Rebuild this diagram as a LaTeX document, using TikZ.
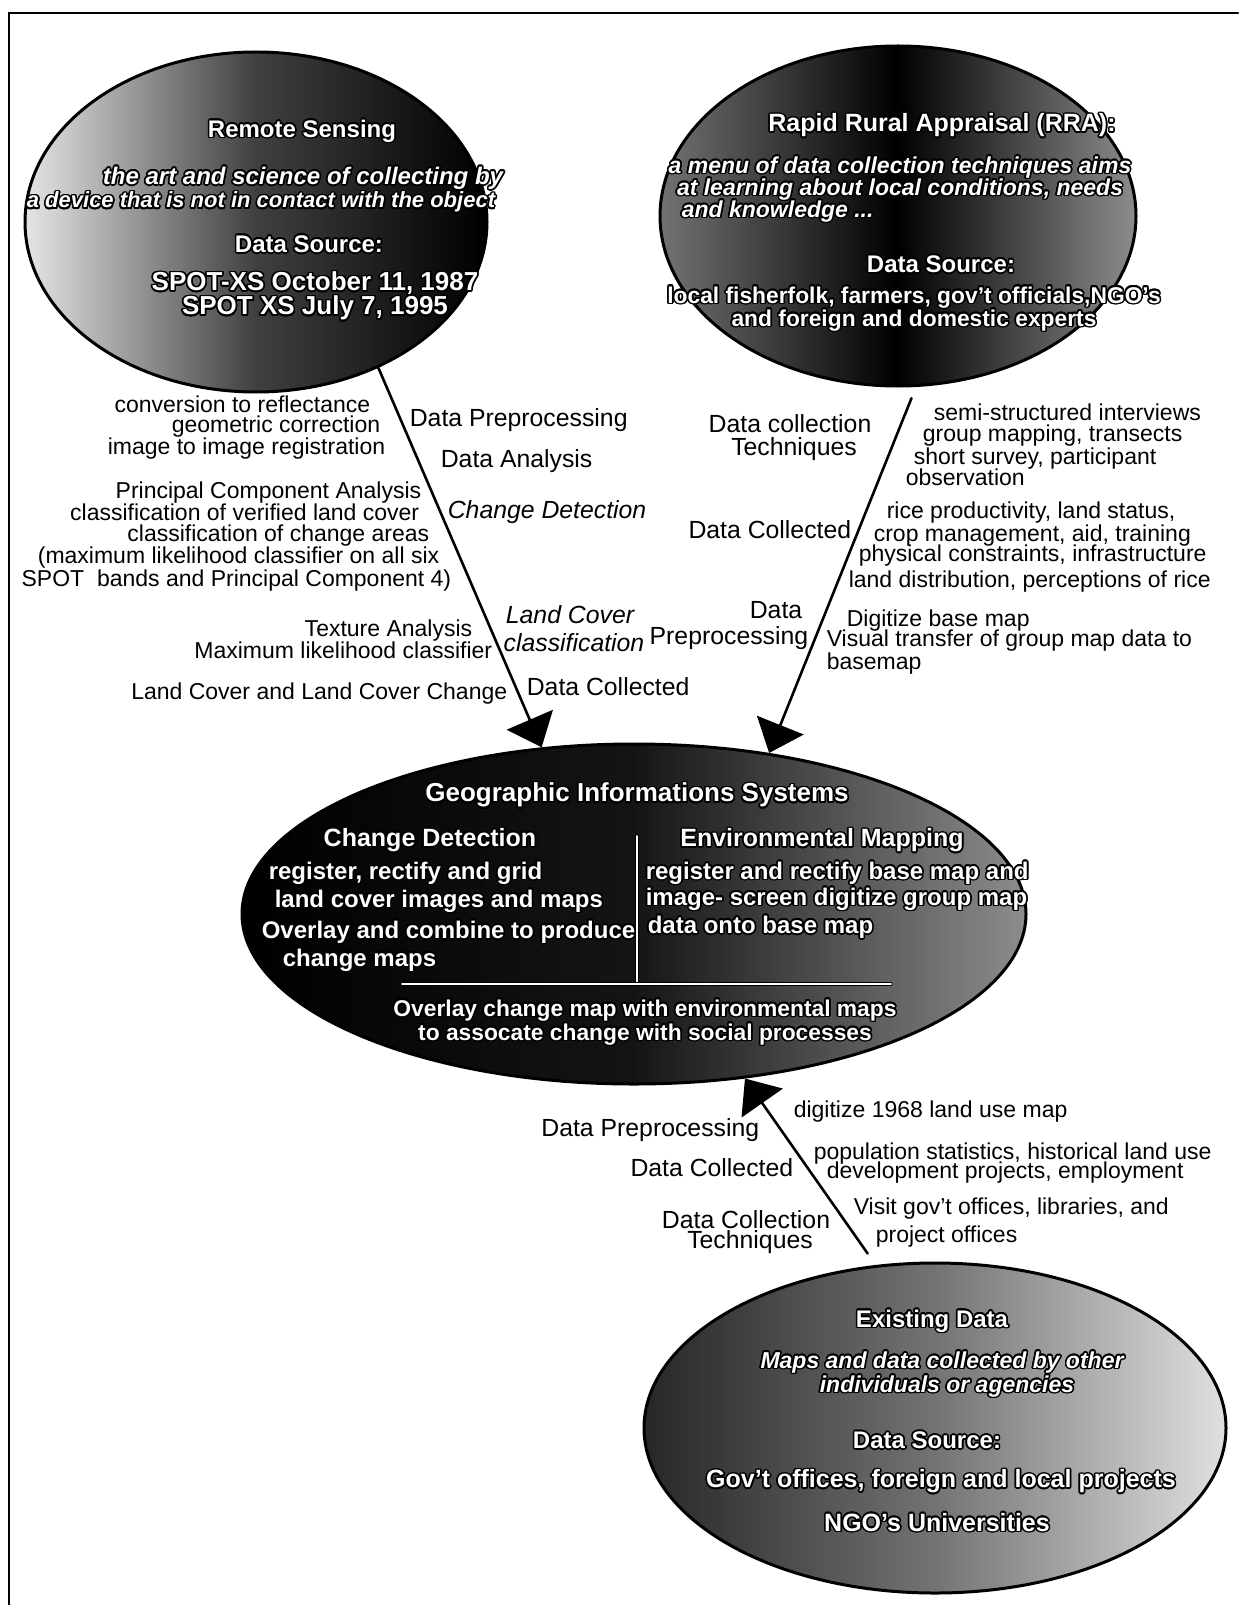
\documentclass[tikz,border=0pt]{standalone}
\usepackage{fontspec}
\setmainfont{Liberation Sans}
\usepackage{contour}
\contourlength{0.8pt}
\usepackage{tikz}
\usetikzlibrary{shapes.geometric,arrows.meta}
\newcommand{\wtxt}[1]{\contour{black}{#1}}

\begin{document}
\begin{tikzpicture}[x=0.5pt,y=-0.5pt,thick,line cap=round]
	\tikzstyle{bubble}=[ellipse,draw,line width=1.5pt,inner sep=0pt];
	\tikzstyle{inbold}=[text=white,inner sep=0pt,font=\bfseries\fontsize{12}{12}\selectfont];
	\tikzstyle{inbig}=[inbold,font=\bfseries\fontsize{13}{13}\selectfont];
	\tikzstyle{inbody}=[inbold,font=\bfseries\fontsize{12}{12}\selectfont];
	\tikzstyle{insmall}=[inbold,font=\bfseries\fontsize{11.4}{11.4}\selectfont];
	\tikzstyle{inital}=[inbold,font=\bfseries\itshape\fontsize{11.5}{11.5}\selectfont];
	\tikzstyle{txt}=[inner sep=0pt,text height=8.5pt,text depth=2.5pt,font=\fontsize{11.5}{11.5}\selectfont];
	\tikzstyle{cat}=[txt,font=\fontsize{12.4}{12.4}\selectfont];
	\tikzstyle{catit}=[txt,font=\itshape\fontsize{12.4}{12.4}\selectfont];
	\tikzstyle{flow}=[line width=1.3pt,-{Triangle[length=15pt,width=25pt]}];
	\tikzstyle{divide}=[line width=0.4pt,double=white,double distance=0.8pt];
%<--------------------------------------------------------------------------->%

	\useasboundingbox (0,0) rectangle (1238,1605);
	%% frame
	\draw[line width=1pt] (9,1605) -- (9,13) -- (1238,13);
	%% ellipses
	\node[bubble,minimum width=231pt,minimum height=170pt,left color=black!10,right color=black,middle color=black!75] (rs)  at (256,222)  {};
	\node[bubble,minimum width=238pt,minimum height=170pt,left color=black!55,right color=black!45,middle color=black]   (rra) at (898,216)  {};
	\node[bubble,minimum width=392pt,minimum height=170pt,left color=black,right color=black!45,middle color=black!92]   (gis) at (634,914)  {};
	\node[bubble,minimum width=291pt,minimum height=165pt,left color=black!85,right color=black!12,middle color=black!55] (ed)  at (935,1428) {};
	%% Remote Sensing
	\node[inbold] (rs1) at (302,132) {\wtxt{Remote Sensing}};
	\node[inital,font=\bfseries\itshape\fontsize{12}{12}\selectfont] (rs2) at (303,179) {\wtxt{the art and science of collecting by}};
	\node[inital,font=\bfseries\itshape\fontsize{11}{11}\selectfont] (rs3) at (261,203) {\wtxt{a device that is not in contact with the object}};
	\node[inbold] (rs4) at (309,245) {\wtxt{Data Source:}};
	\node[inbig]  (rs5) at (315,284) {\wtxt{SPOT-XS October 11, 1987}};
	\node[inbig]  (rs6) at (315,309) {\wtxt{SPOT XS July 7, 1995}};
	%% Rapid Rural Appraisal
	\node[inbold,font=\bfseries\fontsize{12.5}{12.5}\selectfont] (rra1) at (942,126) {\wtxt{Rapid Rural Appraisal (RRA):}};
	\node[inital] (rra2) at (900,168) {\wtxt{a menu of data collection techniques aims}};
	\node[inital] (rra3) at (900,190) {\wtxt{at learning about local conditions, needs}};
	\node[inital,anchor=west] (rra4) at (681,212) {\wtxt{and knowledge ...}};
	\node[inbold] (rra5) at (941,265) {\wtxt{Data Source:}};
	\node[insmall] (rra6) at (914,298) {\wtxt{local fisherfolk, farmers, gov't officials,NGO's}};
	\node[insmall] (rra7) at (914,321) {\wtxt{and foreign and domestic experts}};
	%% Geographic Information Systems
	\node[inbig]  (gis1) at (637,796) {\wtxt{Geographic Informations Systems}};
	\node[inbold,font=\bfseries\fontsize{12.5}{12.5}\selectfont] (gis2) at (430,841) {\wtxt{Change Detection}};
	\node[inbold,font=\bfseries\fontsize{12.5}{12.5}\selectfont] (gis3) at (822,841) {\wtxt{Environmental Mapping}};
	\node[inbody,anchor=west] (gis4)  at (268,874) {\wtxt{register, rectify and grid}};
	\node[inbody,anchor=west] (gis5)  at (274,902) {\wtxt{land cover images and maps}};
	\node[inbody,anchor=west] (gis6)  at (261,933) {\wtxt{Overlay and combine to produce}};
	\node[inbody,anchor=west] (gis7)  at (282,961) {\wtxt{change maps}};
	\node[inbody,anchor=west] (gis8)  at (645,874) {\wtxt{register and rectify base map and}};
	\node[inbody,anchor=west] (gis9)  at (645,900) {\wtxt{image- screen digitize group map}};
	\node[inbody,anchor=west] (gis10) at (647,928) {\wtxt{data onto base map}};
	\node[insmall] (gis11) at (645,1011) {\wtxt{Overlay change map with environmental maps}};
	\node[insmall] (gis12) at (645,1035) {\wtxt{to assocate change with social processes}};
	\draw[divide] (637,836) -- (637,984);
	\draw[divide] (402,984) -- (891,984);
	%% Existing Data
	\node[inbold] (ed1) at (932,1322) {\wtxt{Existing Data}};
	\node[inital] (ed2) at (942,1363) {\wtxt{Maps and data collected by other}};
	\node[inital] (ed3) at (947,1387) {\wtxt{individuals or agencies}};
	\node[inbold] (ed4) at (927,1441) {\wtxt{Data Source:}};
	\node[inbold,font=\bfseries\fontsize{12.5}{12.5}\selectfont] (ed5) at (941,1482) {\wtxt{Gov't offices, foreign and local projects}};
	\node[inbold,font=\bfseries\fontsize{12.5}{12.5}\selectfont] (ed6) at (937,1523) {\wtxt{NGO's Universities}};
	%% arrows
	\draw[flow] (rs.-50) -- (gis.119.5);
	\draw[flow,shorten <=6pt] (rra.-84) -- (gis.50);
	\draw[flow,shorten <=7pt] (ed.110.4) -- (gis.-56);
	%% labels remote sensing
	\node[txt,anchor=east] (a1) at (371,406) {conversion to reflectance};
	\node[txt,anchor=east] (a2) at (381,426) {geometric correction};
	\node[txt,anchor=east] (a3) at (386,448) {image to image registration};
	\node[txt,anchor=east] (a4) at (422,492) {Principal Component Analysis};
	\node[txt,anchor=east] (a5) at (420,514) {classification of verified land cover};
	\node[txt,anchor=east] (a6) at (430,535) {classification of change areas};
	\node[txt,anchor=east] (a7) at (440,557) {(maximum likelihood classifier on all six};
	\node[txt,anchor=east] (a8) at (452,580) {SPOT\ \ bands and Principal Component 4)};
	\node[txt,anchor=east] (a9) at (473,630) {Texture Analysis};
	\node[txt,anchor=east] (a10) at (493,652) {Maximum likelihood classifier};
	\node[txt,anchor=east] (a11) at (508,693) {Land Cover and Land Cover Change};
	\node[cat,anchor=west]   (b1) at (409,420) {Data Preprocessing};
	\node[cat,anchor=west]   (b2) at (440,461) {Data Analysis};
	\node[catit,anchor=west] (b3) at (447,512) {Change Detection};
	\node[catit]             (b4) at (570,617) {Land Cover};
	\node[catit]             (b5) at (574,645) {classification};
	\node[cat,anchor=west]   (b6) at (526,689) {Data Collected};
	%% labels rapid rural appraisal
	\node[cat]             (c1) at (790,426) {Data collection};
	\node[cat]             (c2) at (794,449) {Techniques};
	\node[cat,anchor=east] (c3) at (852,532) {Data Collected};
	\node[cat]             (c4) at (776,612) {Data};
	\node[cat,anchor=east] (c5) at (809,638) {Preprocessing};
	\node[txt,anchor=west] (d1)  at (933,414) {semi-structured interviews};
	\node[txt,anchor=west] (d2)  at (922,435) {group mapping, transects};
	\node[txt,anchor=west] (d3)  at (913,458) {short survey, participant};
	\node[txt,anchor=west] (d4)  at (905,479) {observation};
	\node[txt,anchor=west] (d5)  at (886,512) {rice productivity, land status,};
	\node[txt,anchor=west] (d6)  at (873,535) {crop management, aid, training};
	\node[txt,anchor=west] (d7)  at (858,555) {physical constraints, infrastructure};
	\node[txt,anchor=west] (d8)  at (848,581) {land distribution, perceptions of rice};
	\node[txt,anchor=west] (d9)  at (846,620) {Digitize base map};
	\node[txt,anchor=west] (d10) at (826,640) {Visual transfer of group map data to};
	\node[txt,anchor=west] (d11) at (826,663) {basemap};
	%% labels existing data
	\node[cat,anchor=east] (e1) at (760,1130) {Data Preprocessing};
	\node[cat,anchor=east] (e2) at (794,1170) {Data Collected};
	\node[cat]             (e3) at (746,1222) {Data Collection};
	\node[cat]             (e4) at (750,1242) {Techniques};
	\node[txt,anchor=west] (f1) at (793,1111) {digitize 1968 land use map};
	\node[txt,anchor=west] (f2) at (813,1153) {population statistics, historical land use};
	\node[txt,anchor=west] (f3) at (826,1172) {development projects, employment};
	\node[txt,anchor=west] (f4) at (853,1208) {Visit gov't offices, libraries, and};
	\node[txt,anchor=west] (f5) at (875,1236) {project offices};
\end{tikzpicture}
\end{document}
